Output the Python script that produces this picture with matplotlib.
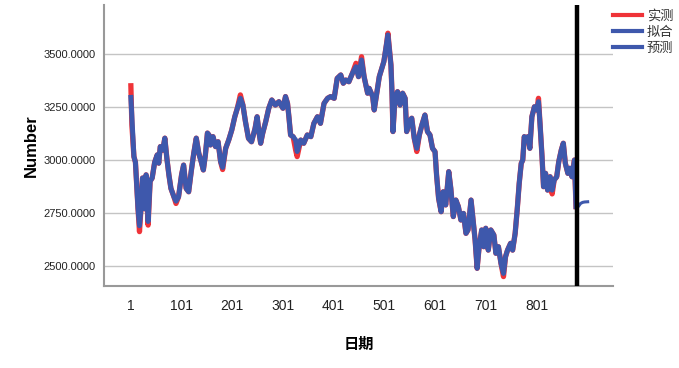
import matplotlib
matplotlib.use("Agg")
import matplotlib.pyplot as plt
from matplotlib.lines import Line2D

plt.rcParams['font.family'] = ['Liberation Sans', 'Noto Sans CJK SC', 'DejaVu Sans']

day = [1, 3, 7, 10, 12, 15, 18, 21, 24, 28, 31, 35, 39, 43, 48, 53, 56, 59, 64, 68,
       72, 76, 80, 86, 90, 95, 101, 105, 110, 115, 120, 125, 130, 135, 140, 144, 148, 152, 155, 158,
       163, 168, 173, 178, 182, 188, 194, 200, 206, 211, 217, 222, 227, 233, 239, 246, 250, 254, 257, 261,
       267, 273, 279, 286, 293, 301, 306, 310, 313, 316, 321, 326, 329, 336, 342, 349, 356, 362, 369, 375,
       382, 389, 395, 402, 408, 415, 420, 425, 431, 438, 445, 450, 456, 461, 468, 471, 478, 481, 486, 491,
       496, 500, 505, 508, 512, 514, 516, 518, 522, 527, 532, 537, 542, 545, 550, 555, 560, 565, 570, 575,
       581, 586, 591, 596, 601, 604, 608, 613, 617, 622, 628, 632, 637, 642, 647, 652, 657, 662, 666, 672,
       676, 680, 684, 688, 693, 697, 701, 706, 711, 717, 721, 726, 731, 736, 740, 744, 750, 754, 759, 763,
       767, 771, 774, 777, 779, 784, 788, 792, 797, 802, 805, 808, 812, 815, 819, 823, 828, 832, 836, 841,
       845, 850, 854, 858, 863, 867, 871, 876, 879]

actual = [3350, 3165, 3016, 2990, 2900, 2774, 2662, 2774, 2915, 2770, 2930, 2693, 2900, 2915, 2990, 3024, 2985, 3063, 3047, 3103,
          3008, 2930, 2866, 2826, 2795, 2826, 2930, 2976, 2866, 2850, 2945, 3031, 3103, 3031, 2990, 2953, 3024, 3127, 3118, 3071,
          3110, 3063, 3086, 2992, 2955, 3055, 3094, 3141, 3204, 3244, 3307, 3259, 3181, 3102, 3086, 3149, 3204, 3126, 3079, 3126,
          3181, 3244, 3283, 3259, 3275, 3244, 3299, 3267, 3197, 3118, 3110, 3047, 3016, 3094, 3079, 3118, 3110, 3173, 3204, 3173,
          3267, 3291, 3299, 3291, 3385, 3401, 3362, 3377, 3369, 3409, 3456, 3393, 3487, 3393, 3315, 3338, 3299, 3236, 3315, 3393,
          3432, 3464, 3542, 3598, 3495, 3448, 3322, 3134, 3291, 3322, 3259, 3315, 3291, 3134, 3181, 3197, 3102, 3040, 3118, 3165,
          3212, 3134, 3118, 3055, 3039, 2929, 2819, 2756, 2850, 2788, 2945, 2867, 2733, 2811, 2780, 2717, 2748, 2654, 2670, 2811,
          2717, 2623, 2489, 2591, 2670, 2591, 2678, 2575, 2670, 2646, 2560, 2591, 2513, 2450, 2544, 2575, 2607, 2575, 2654, 2764,
          2890, 2984, 3000, 3110, 3094, 3110, 3055, 3204, 3251, 3236, 3291, 3173, 3016, 2874, 2937, 2858, 2921, 2840, 2906, 2921,
          2992, 3047, 3079, 2984, 2937, 2961, 2921, 3000, 2780]

fitted = [3295, 3200, 3016, 2990, 2900, 2774, 2690, 2774, 2915, 2770, 2930, 2710, 2900, 2915, 2990, 3024, 2985, 3063, 3047, 3103,
          3008, 2930, 2866, 2826, 2806, 2826, 2930, 2976, 2866, 2850, 2945, 3031, 3103, 3031, 2990, 2953, 3024, 3127, 3118, 3071,
          3110, 3063, 3086, 2992, 2965, 3055, 3094, 3141, 3204, 3244, 3291, 3259, 3181, 3102, 3086, 3149, 3204, 3126, 3079, 3126,
          3181, 3244, 3283, 3259, 3275, 3244, 3299, 3267, 3197, 3118, 3110, 3094, 3040, 3094, 3079, 3118, 3110, 3173, 3204, 3173,
          3267, 3291, 3299, 3291, 3385, 3401, 3362, 3377, 3369, 3409, 3440, 3393, 3472, 3393, 3315, 3338, 3299, 3236, 3315, 3393,
          3432, 3464, 3542, 3590, 3495, 3448, 3322, 3134, 3291, 3322, 3259, 3315, 3291, 3134, 3181, 3197, 3102, 3055, 3118, 3165,
          3212, 3134, 3118, 3055, 3039, 2929, 2819, 2756, 2850, 2788, 2945, 2867, 2733, 2811, 2780, 2717, 2748, 2654, 2670, 2811,
          2717, 2623, 2489, 2591, 2670, 2591, 2678, 2575, 2670, 2646, 2560, 2591, 2513, 2465, 2544, 2575, 2607, 2575, 2654, 2764,
          2890, 2984, 3000, 3110, 3094, 3110, 3055, 3204, 3251, 3236, 3275, 3173, 3016, 2874, 2937, 2858, 2921, 2858, 2906, 2921,
          2992, 3047, 3079, 2984, 2937, 2961, 2921, 3000, 2780]

forecast_day = [880, 884, 888, 892, 896, 902]
forecast = [2772, 2782, 2795, 2800, 2802, 2803]

split_day = 881
x_ticks = [1, 101, 201, 301, 401, 501, 601, 701, 801]
y_ticks = [2500, 2750, 3000, 3250, 3500]
legend_labels = ['实测', '拟合', '预测']

RED = '#EF3338'
BLUE = '#3E58AC'

fig = plt.figure(figsize=(6.79, 3.68), dpi=100)
ax = fig.add_axes([104/679, 1 - 286/368, (613-104)/679, (286-5)/368])

ax.plot(day, actual, color=RED, lw=3.8, zorder=3)
ax.plot(day, fitted, color=BLUE, lw=3.6, zorder=4)
ax.plot(forecast_day, forecast, color=BLUE, lw=2.2, zorder=4)
ax.axvline(split_day, color='black', lw=3.2, zorder=5)

ax.set_xlim(-52, 952)
ax.set_ylim(2405.7, 3731)
ax.set_yticks(y_ticks)
ax.set_yticklabels([f"{v:.4f}" for v in y_ticks], fontsize=8, color='#222222')
ax.set_xticks(x_ticks)
ax.set_xticklabels([str(v) for v in x_ticks], fontsize=10, color='#222222')
ax.tick_params(axis='both', length=0)
ax.tick_params(axis='y', pad=6)
ax.tick_params(axis='x', pad=9)
ax.grid(axis='y', color='#c4c4c4', lw=1.0, zorder=1)
ax.set_axisbelow(True)
for s in ['top', 'right']:
    ax.spines[s].set_visible(False)
for s in ['left', 'bottom']:
    ax.spines[s].set_color('#999999')
    ax.spines[s].set_linewidth(1.5)

ax.set_ylabel('Number', fontsize=12, fontweight='bold', labelpad=3)
ax.set_xlabel('日期', fontsize=11, fontweight='bold', labelpad=18)

handles = [Line2D([0], [0], color=RED, lw=3),
           Line2D([0], [0], color=BLUE, lw=3),
           Line2D([0], [0], color=BLUE, lw=3)]
leg = fig.legend(handles, legend_labels, loc='upper left', bbox_to_anchor=(610/679, 1 - 7/368),
                 frameon=False, fontsize=9.5, handlelength=2.2, handletextpad=0.4,
                 labelspacing=0.3, borderaxespad=0, borderpad=0.2)
for t in leg.get_texts():
    t.set_color('#333333')

fig.savefig('out.png', dpi=100)
